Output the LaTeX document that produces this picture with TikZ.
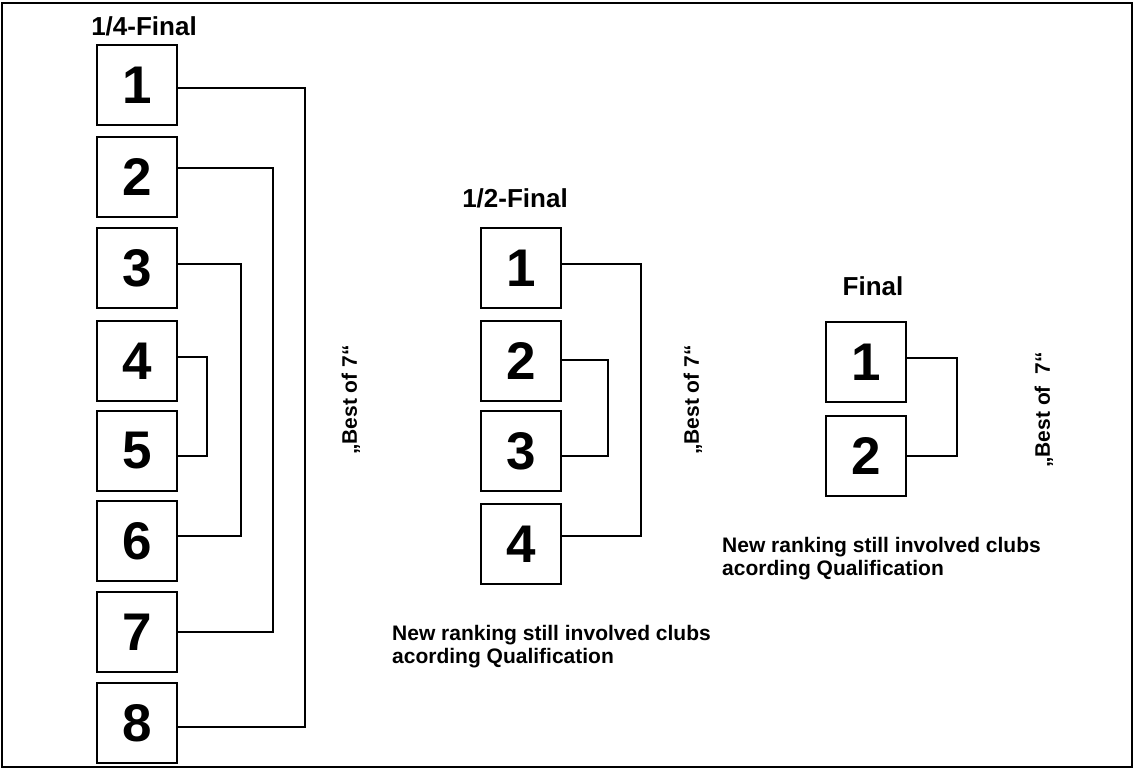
\documentclass[tikz,border=0pt]{standalone}
\usepackage{fontspec}
\setmainfont{Liberation Sans}
\begin{document}
\begin{tikzpicture}[x=1pt,y=-1pt,
  team/.style={draw,line width=2pt,minimum width=80pt,minimum height=80pt,inner sep=0pt,
    font=\bfseries\fontsize{53}{53}\selectfont},
  title/.style={anchor=base,inner sep=0pt,font=\bfseries\fontsize{26}{26}\selectfont},
  bestof/.style={rotate=90,inner sep=0pt,font=\bfseries\fontsize{21}{21}\selectfont},
  note/.style={anchor=base west,align=left,inner sep=0pt,font=\bfseries\fontsize{21}{23}\selectfont},
  link/.style={line width=1.6pt}]
\useasboundingbox (0,0) rectangle (1134,772);
\draw[line width=2pt] (2,3) rectangle (1132,767);

% Quarter-final
\node[title] (tq) at (144,35) {1/4-Final};
\foreach \i/\cy in {1/85,2/177,3/268,4/361,5/451,6/541,7/632,8/723}
  \node[team] (q\i) at (137,\cy) {\i};
\coordinate (q1o) at ([yshift=-3pt]q1.east);
\coordinate (q2o) at ([yshift=9pt]q2.east);
\coordinate (q3o) at ([yshift=4pt]q3.east);
\coordinate (q4o) at ([yshift=4pt]q4.east);
\coordinate (q5o) at ([yshift=-5pt]q5.east);
\coordinate (q6o) at ([yshift=5pt]q6.east);
\coordinate (q7o) at (q7.east);
\coordinate (q8o) at ([yshift=-4pt]q8.east);
\coordinate (v18) at (305,0);
\coordinate (v27) at (273,0);
\coordinate (v36) at (241,0);
\coordinate (v45) at (207,0);
\draw[link] (q1o) -- (q1o -| v18) -- (q8o -| v18) -- (q8o);
\draw[link] (q2o) -- (q2o -| v27) -- (q7o -| v27) -- (q7o);
\draw[link] (q3o) -- (q3o -| v36) -- (q6o -| v36) -- (q6o);
\draw[link] (q4o) -- (q4o -| v45) -- (q5o -| v45) -- (q5o);
\node[bestof] (bq) at (351,400) {„Best of 7“};

% Semi-final
\node[title] (ts) at (515,207) {1/2-Final};
\foreach \i/\cy in {1/268,2/361,3/451,4/544}
  \node[team] (s\i) at (521,\cy) {\i};
\coordinate (s1o) at ([yshift=4pt]s1.east);
\coordinate (s2o) at ([yshift=1pt]s2.east);
\coordinate (s3o) at ([yshift=-5pt]s3.east);
\coordinate (s4o) at ([yshift=8pt]s4.east);
\coordinate (v14) at (641,0);
\coordinate (v23) at (608,0);
\draw[link] (s1o) -- (s1o -| v14) -- (s4o -| v14) -- (s4o);
\draw[link] (s2o) -- (s2o -| v23) -- (s3o -| v23) -- (s3o);
\node[bestof] (bs) at (693,400) {„Best of 7“};
\node[note] (ns) at (392,663) {New ranking still involved clubs\\acording Qualification};

% Final
\node[title] (tf) at (873,295) {Final};
\foreach \i/\cy in {1/362,2/456}
  \node[team] (f\i) at (866,\cy) {\i};
\coordinate (f1o) at ([yshift=4pt]f1.east);
\coordinate (f2o) at (f2.east);
\coordinate (v12) at (957,0);
\draw[link] (f1o) -- (f1o -| v12) -- (f2o -| v12) -- (f2o);
\node[bestof] (bf) at (1044,410) {„Best of\ \ 7“};
\node[note] (nf) at (722,575) {New ranking still involved clubs\\acording Qualification};
\end{tikzpicture}
\end{document}
